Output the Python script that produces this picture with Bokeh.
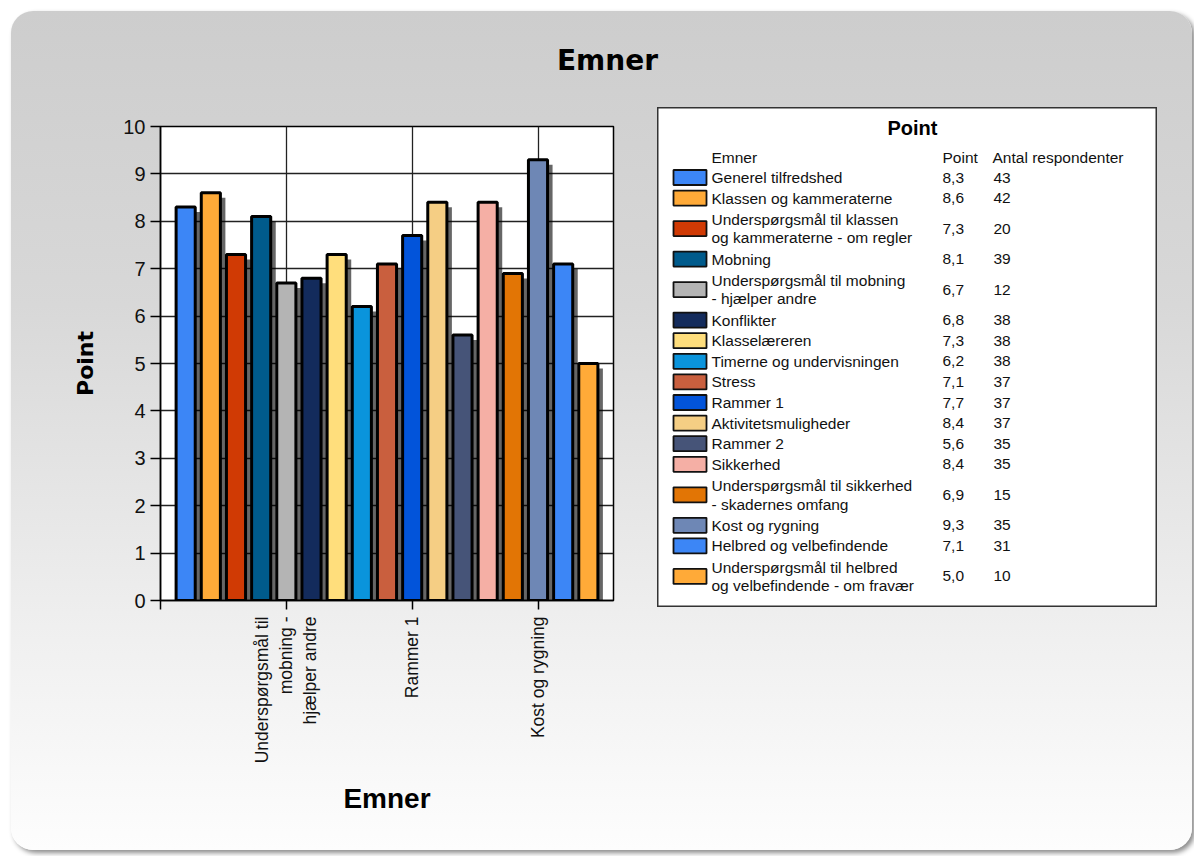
import math
from bokeh.plotting import figure
from bokeh.layouts import column, row
from bokeh.models import FixedTicker, ColumnDataSource, Range1d, Spacer
from bokeh.core.properties import value
from bokeh.embed import file_html
from bokeh.resources import INLINE

# ---------------- data ----------------
categories = [
    "Generel tilfredshed",
    "Klassen og kammeraterne",
    "Underspørgsmål til klassen og kammeraterne - om regler",
    "Mobning",
    "Underspørgsmål til mobning - hjælper andre",
    "Konflikter",
    "Klasselæreren",
    "Timerne og undervisningen",
    "Stress",
    "Rammer 1",
    "Aktivitetsmuligheder",
    "Rammer 2",
    "Sikkerhed",
    "Underspørgsmål til sikkerhed - skadernes omfang",
    "Kost og rygning",
    "Helbred og velbefindende",
    "Underspørgsmål til helbred og velbefindende - om fravær",
]
legend_labels = [
    "Generel tilfredshed",
    "Klassen og kammeraterne",
    "Underspørgsmål til klassen\nog kammeraterne - om regler",
    "Mobning",
    "Underspørgsmål til mobning\n- hjælper andre",
    "Konflikter",
    "Klasselæreren",
    "Timerne og undervisningen",
    "Stress",
    "Rammer 1",
    "Aktivitetsmuligheder",
    "Rammer 2",
    "Sikkerhed",
    "Underspørgsmål til sikkerhed\n- skadernes omfang",
    "Kost og rygning",
    "Helbred og velbefindende",
    "Underspørgsmål til helbred\nog velbefindende - om fravær",
]
points = [8.3, 8.6, 7.3, 8.1, 6.7, 6.8, 7.3, 6.2, 7.1, 7.7, 8.4, 5.6, 8.4, 6.9, 9.3, 7.1, 5.0]
respondents = [43, 42, 20, 39, 12, 38, 38, 38, 37, 37, 37, 35, 35, 15, 35, 31, 10]
colors = ["#3C86F6", "#FFAA38", "#D03A04", "#005B8C", "#B4B4B4", "#132B5C",
          "#FFDE7C", "#0A94DC", "#C95F3E", "#0254DA", "#F5CE84", "#465478",
          "#F5AFA5", "#E27505", "#6E87B5", "#3C86F6", "#FFAA38"]
x_tick_positions = [-1, 4, 9, 14]
x_tick_labels = ["", "Underspørgsmål til\nmobning -\nhjælper andre", "Rammer 1", "Kost og rygning"]
y_ticks = [0, 1, 2, 3, 4, 5, 6, 7, 8, 9, 10]
legend_title = "Point"
legend_header = ["Emner", "Point", "Antal respondenter"]
chart_title = "Emner"

# ---------------- geometry (page px) ----------------
ORG = 11                       # panel origin on the page
W, H = 1181, 839               # panel size
TH = 84                        # title strip height
SPLIT = 645                    # page x where chart and legend figures meet
frame_l, frame_r, frame_t, frame_b = 160, 613, 126, 600
lg_l, lg_r, lg_t, lg_b = 657, 1157, 107, 607
top_row = ORG + TH             # page y of row top
bottom = ORG + H
right = ORG + W

# ---------------- title strip ----------------
pt = figure(width=W, height=TH, x_range=Range1d(ORG, right), y_range=Range1d(ORG + TH, ORG),
            x_axis_location=None, y_axis_location=None, title_location=None,
            output_backend="svg", toolbar_location=None, min_border=0)
pt.border_fill_alpha = 0.0
pt.background_fill_alpha = 0.0
pt.outline_line_color = None
pt.grid.visible = False
pt.text(x=[607], y=[60], text=[chart_title], text_align="center", text_baseline="middle",
        text_font=value("DejaVu Sans"), text_font_style="bold",
        text_font_size=value("28px"), text_color="black")

# ---------------- chart ----------------
x = list(range(len(points)))
src = ColumnDataSource(dict(x=x, points=points, color=colors, name=categories))

p = figure(width=SPLIT - ORG, height=bottom - top_row, x_range=Range1d(-1, 17),
           y_range=Range1d(0, 10), output_backend="svg", toolbar_location=None,
           title_location=None,
           min_border_left=frame_l - ORG, min_border_right=SPLIT - frame_r,
           min_border_top=frame_t - top_row, min_border_bottom=bottom - frame_b)
p.border_fill_alpha = 0.0
p.background_fill_color = "white"
p.outline_line_color = "black"
p.outline_line_width = 1.5

px_x = 18 / (frame_r - frame_l)
px_y = 10 / (frame_b - frame_t)
bar_w = 0.76
shadow_src = ColumnDataSource(dict(
    left=[v - bar_w / 2 + 3 * px_x for v in x],
    right=[v + bar_w / 2 + 5 * px_x for v in x],
    top=[v - 5 * px_y for v in points],
    bottom=[-1 for _ in x]))
p.quad(left="left", right="right", top="top", bottom="bottom", source=shadow_src,
       fill_color="black", fill_alpha=0.6, line_color=None)
p.vbar(x="x", top="points", width=bar_w, fill_color="color", line_color="black",
       line_width=3, source=src)

p.xgrid.ticker = FixedTicker(ticks=x_tick_positions[1:])
p.xgrid.grid_line_color = "#222222"
p.xgrid.grid_line_width = 1.3
p.ygrid.ticker = FixedTicker(ticks=y_ticks)
p.ygrid.grid_line_color = "#222222"
p.ygrid.grid_line_width = 1.3

p.xaxis.ticker = FixedTicker(ticks=x_tick_positions)
p.xaxis.major_label_overrides = {k: v for k, v in zip(x_tick_positions, x_tick_labels)}
p.xaxis.major_label_orientation = math.pi / 2
p.xaxis.major_label_text_font = "Liberation Sans"
p.xaxis.major_label_text_font_size = "17.5px"
p.xaxis.major_label_text_color = "#111111"
p.xaxis.major_tick_out = 9
p.xaxis.major_tick_in = 0
p.xaxis.minor_tick_line_color = None
p.xaxis.axis_line_width = 1.5
p.xaxis.major_tick_line_width = 1.5
p.xaxis.major_label_standoff = 7
p.xaxis.axis_label = "Emner"
p.xaxis.axis_label_text_font = "Liberation Sans"
p.xaxis.axis_label_text_font_size = "28px"
p.xaxis.axis_label_text_font_style = "bold"
p.xaxis.axis_label_text_color = "black"
p.xaxis.axis_label_standoff = 17

p.yaxis.ticker = FixedTicker(ticks=y_ticks)
p.yaxis.major_label_text_font = "Liberation Sans"
p.yaxis.major_label_text_font_size = "20px"
p.yaxis.major_label_text_color = "#111111"
p.yaxis.major_tick_out = 10
p.yaxis.major_tick_in = 0
p.yaxis.minor_tick_line_color = None
p.yaxis.axis_line_width = 1.5
p.yaxis.major_tick_line_width = 1.5
p.yaxis.major_label_standoff = 5
p.yaxis.axis_label = "Point"
p.yaxis.axis_label_text_font = "DejaVu Sans"
p.yaxis.axis_label_text_font_size = "22px"
p.yaxis.axis_label_text_font_style = "bold"
p.yaxis.axis_label_text_color = "black"
p.yaxis.axis_label_standoff = 22

# ---------------- legend ----------------
# the legend figure's frame is the legend box itself
pl = figure(width=lg_r - lg_l, height=lg_b - lg_t,
            x_range=Range1d(lg_l, lg_r), y_range=Range1d(lg_b, lg_t),
            x_axis_location=None, y_axis_location=None, title_location=None,
            output_backend="svg", toolbar_location=None, min_border=0)
pl.border_fill_alpha = 0.0
pl.background_fill_color = "white"
pl.outline_line_color = "#333333"
pl.outline_line_width = 2
pl.grid.visible = False

lg_font = value("Liberation Sans")
lg_size = value("15.5px")
pl.text(x=[912], y=[127], text=[legend_title], text_align="center", text_baseline="middle",
        text_font=lg_font, text_font_style="bold", text_font_size=value("20px"),
        text_color="black")
col_x = [711, 942, 992]
pl.text(x=col_x, y=[157] * 3, text=legend_header, text_align="left", text_baseline="middle",
        text_font=lg_font, text_font_size=lg_size, text_color="#111111")

row_cy = []
row_top = 166.7
for lab in legend_labels:
    h = 20.6 if lab.count("\n") == 0 else 40.4
    row_cy.append(row_top + h / 2)
    row_top += h

pl.quad(left=[673] * len(row_cy), right=[706] * len(row_cy),
        top=[c - 7.5 for c in row_cy], bottom=[c + 7.5 for c in row_cy],
        fill_color=colors, line_color="#111111", line_width=1.8)
pl.text(x=[col_x[0]] * len(row_cy), y=row_cy, text=legend_labels, text_align="left",
        text_baseline="middle", text_line_height=1.1,
        text_font=lg_font, text_font_size=lg_size, text_color="#111111")
pl.text(x=[col_x[1]] * len(row_cy), y=row_cy,
        text=[f"{v:.1f}".replace(".", ",") for v in points], text_align="left",
        text_baseline="middle", text_font=lg_font, text_font_size=lg_size, text_color="#111111")
pl.text(x=[col_x[2] + 1] * len(row_cy), y=row_cy, text=[str(c) for c in respondents],
        text_align="left", text_baseline="middle", text_font=lg_font, text_font_size=lg_size,
        text_color="#111111")

legend_block = row(Spacer(width=lg_l - SPLIT, height=10),
                   column(Spacer(width=lg_r - lg_l, height=lg_t - top_row), pl))

layout = column(pt, row(p, legend_block))
layout.styles = {
    "margin-left": f"{ORG}px",
    "margin-top": f"{ORG}px",
    "width": f"{W}px",
    "height": f"{H}px",
    "background": "linear-gradient(to bottom, #cdcdcd 0%, #d8d8d8 35%, #f0f0f0 75%, #fdfdfd 100%)",
    "border-radius": "22px",
    "box-shadow": "3px 3px 5px rgba(0,0,0,0.45)",
}

open("out.html", "w").write(file_html(layout, INLINE))
